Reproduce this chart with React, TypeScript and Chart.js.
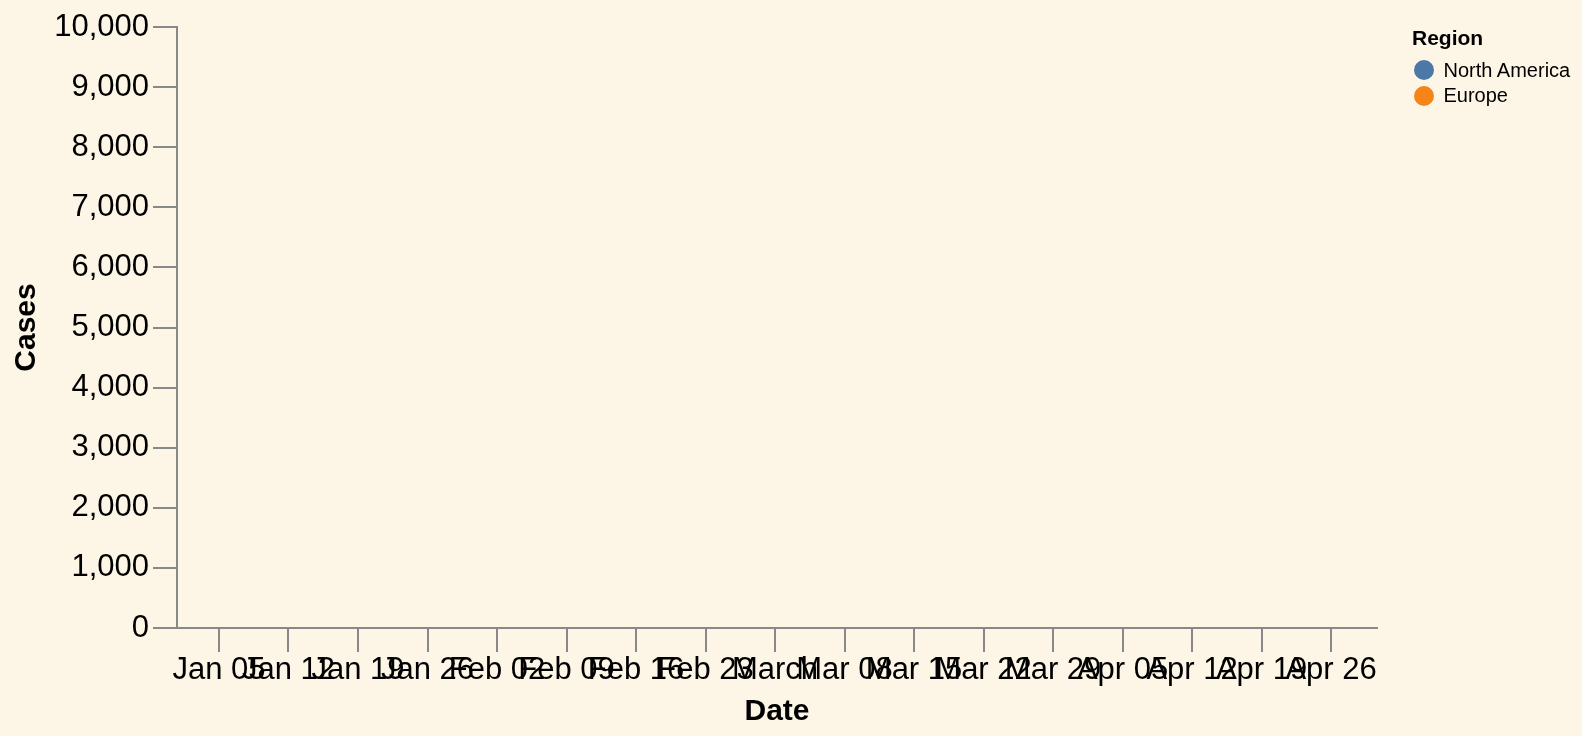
import React, { useEffect, useRef } from "react";
import { Chart, registerables } from "chart.js";

Chart.register(...registerables);

// ---- data ----
const seriesNames = ["North America", "Europe"];
const seriesColors = ["#4c78a8", "#f58518"];
const northAmericaCases: { x: number; y: number }[] = [];
const europeCases: { x: number; y: number }[] = [];

const tickDates = [
  "2020-01-05", "2020-01-12", "2020-01-19", "2020-01-26",
  "2020-02-02", "2020-02-09", "2020-02-16", "2020-02-23",
  "2020-03-01", "2020-03-08", "2020-03-15", "2020-03-22", "2020-03-29",
  "2020-04-05", "2020-04-12", "2020-04-19", "2020-04-26",
];
const tickLabels = [
  "Jan 05", "Jan 12", "Jan 19", "Jan 26",
  "Feb 02", "Feb 09", "Feb 16", "Feb 23",
  "March", "Mar 08", "Mar 15", "Mar 22", "Mar 29",
  "Apr 05", "Apr 12", "Apr 19", "Apr 26",
];
const yTicks = [0, 1000, 2000, 3000, 4000, 5000, 6000, 7000, 8000, 9000, 10000];
const xDomain = ["2019-12-31T18:30:00Z", "2020-04-30T15:00:00Z"];
const yDomain = [0, 10000];

const DAY = 86400000;
const toDay = (s: string) => Date.parse(s.length === 10 ? s + "T00:00:00Z" : s) / DAY;

const FONT = "'Liberation Sans', Arial, Helvetica, sans-serif";
const AXIS = "#888888";

export default function App() {
  const ref = useRef<HTMLCanvasElement | null>(null);

  useEffect(() => {
    if (!ref.current) return;
    const tickDays = tickDates.map(toDay);
    const chart = new Chart(ref.current, {
      type: "line",
      data: {
        datasets: [
          { label: seriesNames[0], data: northAmericaCases, borderColor: seriesColors[0], backgroundColor: seriesColors[0] },
          { label: seriesNames[1], data: europeCases, borderColor: seriesColors[1], backgroundColor: seriesColors[1] },
        ],
      },
      options: {
        responsive: false,
        animation: false,
        devicePixelRatio: 1,
        layout: { padding: { left: 0, top: 27, right: 205, bottom: 0 } },
        plugins: { legend: { display: false }, tooltip: { enabled: false } },
        scales: {
          x: {
            type: "linear",
            min: toDay(xDomain[0]),
            max: toDay(xDomain[1]),
            afterBuildTicks: (scale: any) => {
              scale.ticks = tickDays.map((v) => ({ value: v }));
            },
            afterFit: (scale: any) => {
              scale.height = 108;
            },
            grid: { drawOnChartArea: false, drawTicks: true, tickLength: 24, color: AXIS, tickColor: AXIS, tickWidth: 2, lineWidth: 2 },
            border: { display: true, color: AXIS, width: 2 },
            ticks: {
              autoSkip: false,
              maxRotation: 0,
              minRotation: 0,
              padding: 0,
              color: "#000",
              font: { family: FONT, size: 31 },
              callback: (_v: any, i: number) => tickLabels[i],
            },
            title: {
              display: true,
              text: "Date",
              color: "#000",
              font: { family: FONT, size: 30, weight: "bold" },
              padding: { top: 0, bottom: 6 },
            },
          },
          y: {
            type: "linear",
            min: yDomain[0],
            max: yDomain[1],
            afterBuildTicks: (scale: any) => {
              scale.ticks = yTicks.map((v) => ({ value: v }));
            },
            afterFit: (scale: any) => {
              scale.width = 177;
            },
            grid: { drawOnChartArea: false, drawTicks: true, tickLength: 24, color: AXIS, tickColor: AXIS, tickWidth: 2, lineWidth: 2 },
            border: { display: true, color: AXIS, width: 2 },
            ticks: {
              autoSkip: false,
              padding: 4,
              color: "#000",
              font: { family: FONT, size: 31 },
              callback: (v: any) => Number(v).toLocaleString("en-US"),
            },
            title: {
              display: true,
              text: "Cases",
              color: "#000",
              font: { family: FONT, size: 30, weight: "bold" },
              padding: { top: 9, bottom: 0 },
            },
          },
        },
      } as any,
    });
    return () => chart.destroy();
  }, []);

  const legendLabel: React.CSSProperties = {
    position: "absolute",
    left: 1443.5,
    fontFamily: FONT,
    fontSize: 20,
    lineHeight: "20px",
    color: "#000",
    whiteSpace: "nowrap",
  };
  const dot = (color: string, cy: number): React.CSSProperties => ({
    position: "absolute",
    left: 1414,
    top: cy - 10,
    width: 20,
    height: 20,
    borderRadius: "50%",
    background: color,
  });

  return (
    <div style={{ position: "fixed", left: 0, top: 0, width: 1582, height: 736, background: "#fdf5e6", overflow: "hidden" }}>
      <canvas ref={ref} width={1582} height={736} style={{ display: "block", width: 1582, height: 736 }} />
      <div style={{ position: "absolute", left: 1412, top: 26.5, fontFamily: FONT, fontSize: 21, lineHeight: "21px", fontWeight: "bold", color: "#000" }}>
        Region
      </div>
      <div style={dot(seriesColors[0], 70)} />
      <div style={{ ...legendLabel, top: 59.5 }}>{seriesNames[0]}</div>
      <div style={dot(seriesColors[1], 95.5)} />
      <div style={{ ...legendLabel, top: 84.5 }}>{seriesNames[1]}</div>
    </div>
  );
}
